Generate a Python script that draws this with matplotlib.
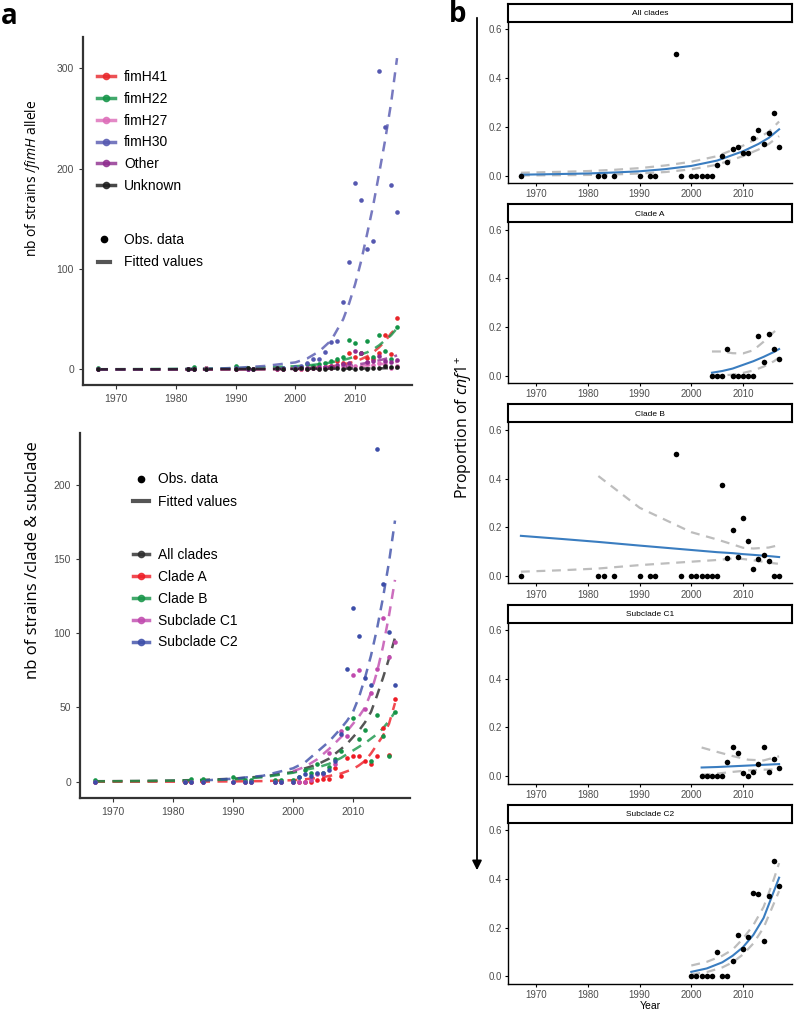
import matplotlib
matplotlib.use('Agg')
import matplotlib.pyplot as plt
from matplotlib.lines import Line2D
from matplotlib.patches import FancyArrowPatch
import numpy as np

plt.rcParams['font.family'] = ['Liberation Sans', 'DejaVu Sans']
plt.rcParams['mathtext.fontset'] = 'custom'
plt.rcParams['mathtext.rm'] = 'Open Sans'
plt.rcParams['mathtext.it'] = 'Open Sans:italic'

nan = np.nan

# ---------------- data: panel a (top) ----------------
years = [1967, 1982, 1983, 1985, 1990, 1992, 1993, 1997, 1998,
         2000, 2001, 2002, 2003, 2004, 2005, 2006, 2007, 2008,
         2009, 2010, 2011, 2012, 2013, 2014, 2015, 2016, 2017]

fim_names = ['fimH41', 'fimH22', 'fimH27', 'fimH30', 'Other', 'Unknown']
fim_colors = ['#E8262A', '#139447', '#DD6CB8', '#5558B0', '#8E2C8E', '#1A1A1A']

fimH41 = [0, 0, 0, 1, 0, 0, 0, 0, 0, 0, 0, 0, 1, 1, 2, 3, 8, 6, 16, 12, 16, 11, 10, 16, 34, 15, 51]
fimH22 = [1, 0, 2, 1, 3, 1, 0, 1, 1, 1, 2, 5, 3, 5, 6, 8, 10, 12, 29, 26, 16, 28, 12, 34, 18, 10, 42]
fimH27 = [0, 0, 0, 1, 0, 0, 0, 1, 0, 0, 0, 0, 1, 0, 2, 1, 2, 3, 4, 3, 2, 5, 4, 6, 4, 1, 3]
fimH30 = [0, 0, 0, 0, 1, 0, 0, 1, 1, 2, 3, 6, 10, 10, 17, 27, 28, 67, 107, 186, 169, 120, 128, 297, 241, 184, 157]
other = [0, 0, 0, 0, 0, 0, 0, 0, 0, 0, 1, 1, 1, 2, 2, 3, 4, 5, 6, 18, 16, 7, 8, 13, 8, 7, 9]
unknown = [0, 0, 0, 0, 0, 1, 0, 1, 0, 0, 1, 0, 1, 0, 0, 1, 1, 0, 1, 0, 1, 0, 1, 1, 3, 2, 2]

fit_years = [1967, 1975, 1980, 1985, 1990, 1995, 2000, 2002, 2004, 2006,
             2008, 2009, 2010, 2011, 2012, 2013, 2014, 2015, 2016, 2017]
fit_fimH41 = [0, 0, 0, 0, 0.1, 0.3, 0.8, 1.3, 2, 3, 5, 6.3, 8, 10.3, 13, 17, 22, 28, 36, 42]
fit_fimH22 = [0.2, 0.4, 0.6, 0.9, 1.3, 2, 3.2, 4, 5.2, 7, 9.5, 11, 13, 15, 17, 20, 24, 29, 34, 41]
fit_fimH27 = [0, 0, 0, 0.1, 0.2, 0.3, 0.6, 0.8, 1.2, 1.6, 2.2, 2.6, 3, 3.5, 4, 4.5, 5, 5.8, 6.5, 7.5]
fit_fimH30 = [0, 0.1, 0.3, 0.6, 1.5, 3.5, 7, 11, 18, 29, 50, 66, 85, 108, 135, 163, 195, 228, 265, 310]
fit_other = [0, 0, 0, 0, 0.1, 0.3, 0.7, 1, 1.5, 2.2, 3.2, 3.8, 4.5, 5.5, 6.5, 7.7, 9, 10.5, 12, 14]
fit_unknown = [0.1, 0.1, 0.15, 0.2, 0.3, 0.4, 0.5, 0.55, 0.65, 0.7, 0.8, 0.85, 0.9, 0.95, 1.0, 1.05, 1.1, 1.15, 1.2, 1.3]

# ---------------- data: panel a (bottom) ----------------
clade_names = ['All clades', 'Clade A', 'Clade B', 'Subclade C1', 'Subclade C2']
clade_colors = ['#2B2B2B', '#EE1C25', '#159447', '#C04AAE', '#3C4DA8']

cladeA = [0, 0, 0, 0, 0, 0, 0, 0, 0, 0, 0, 0, 0, 1, 2, 2, 9, 4, 16, 17, 17, 14, 12, 17, 36, 18, 56]
cladeB = [1, 0, 2, 2, 3, 1, 1, 1, 1, 1, 3, 8, 6, 12, 6, 10, 15, 21, 36, 43, 29, 35, 14, 45, 31, 17, 47]
subC1 = [0, 0, 0, 0, 0, 0, 0, 0, 0, 0, 0, 0, 1, 5, 5, 19, 12, 34, 31, 72, 75, 49, 60, 76, 110, 84, 94]
subC2 = [0, 0, 0, 0, 0, 0, 0, 0, 0, 0, 3, 5, 4, 6, 6, 8, 14, 32, 76, 117, 98, 70, 65, 224, 133, 101, 65]

fit_all = [0.3, 0.5, 0.8, 1.2, 2, 3.5, 6.5, 9, 11.5, 15.5, 22, 25.5, 30, 34.5, 40, 47, 58, 70, 83, 97]
fit_A = [0, 0, 0, 0.05, 0.2, 0.4, 1, 1.6, 2.5, 3.8, 5.5, 7, 8.5, 11, 14, 19, 25, 31, 39, 53]
fit_B = [0.2, 0.4, 0.6, 0.9, 1.5, 3, 6, 8, 9.5, 12, 16, 18.5, 21, 23.5, 26, 29, 32, 36, 41, 47]
fit_C1 = [nan, nan, nan, nan, nan, nan, 7, 10, 15, 22, 30, 34, 39, 44, 50, 60, 74, 91, 112, 136]
fit_C2 = [nan, nan, nan, 0.8, 2, 4, 9, 13, 20, 27, 36, 41, 47, 57, 70, 85, 103, 124, 148, 176]

# ---------------- data: panel b ----------------
prop_all = [0, 0, 0, 0, 0, 0, 0, 0.5, 0, 0, 0, 0, 0, 0, 0.044, 0.082, 0.055, 0.108,
            0.119, 0.095, 0.091, 0.156, 0.187, 0.128, 0.176, 0.258, 0.119]
grid_all = [1967, 1975, 1980, 1985, 1990, 1995, 2000, 2005, 2010, 2013, 2015, 2017]
pfit_all = [0.004, 0.007, 0.009, 0.013, 0.018, 0.027, 0.04, 0.062, 0.1, 0.13, 0.155, 0.19]
pup_all = [0.012, 0.016, 0.019, 0.024, 0.031, 0.042, 0.057, 0.08, 0.123, 0.155, 0.18, 0.222]
plo_all = [0.001, 0.002, 0.003, 0.005, 0.009, 0.015, 0.026, 0.045, 0.08, 0.107, 0.13, 0.162]

years_A = [2004, 2005, 2006, 2007, 2008, 2009, 2010, 2011, 2012, 2013, 2014, 2015, 2016, 2017]
prop_A = [0, 0, 0, 0.109, 0, 0, 0, 0, 0, 0.165, 0.057, 0.17, 0.109, 0.071]
grid_A = [2004, 2006, 2008, 2010, 2012, 2014, 2016, 2017]
pfit_A = [0.013, 0.02, 0.03, 0.045, 0.06, 0.078, 0.098, 0.11]
pup_A = [0.1, 0.1, 0.093, 0.092, 0.105, 0.14, 0.18, 0.197]
plo_A = [0.001, 0.002, 0.005, 0.012, 0.022, 0.038, 0.06, 0.075]

prop_B = [0, 0, 0, 0, 0, 0, 0, 0.5, 0, 0, 0, 0, 0, 0, 0, 0.375, 0.075, 0.188,
          0.08, 0.237, 0.142, 0.027, 0.07, 0.087, 0.063, 0, 0]
grid_B = [1967, 1975, 1982, 1990, 2000, 2005, 2008, 2010, 2012, 2015, 2017]
pfit_B = [0.165, 0.152, 0.14, 0.125, 0.107, 0.098, 0.094, 0.09, 0.087, 0.082, 0.078]
pup_B = [nan, nan, 0.41, 0.28, 0.18, 0.15, 0.13, 0.116, 0.113, 0.117, 0.127]
plo_B = [0.018, 0.024, 0.031, 0.045, 0.059, 0.066, 0.072, 0.07, 0.065, 0.055, 0.05]

years_C1 = [2002, 2003, 2004, 2005, 2006, 2007, 2008, 2009, 2010, 2011, 2012, 2013, 2014, 2015, 2016, 2017]
prop_C1 = [0, 0, 0, 0, 0, 0.059, 0.119, 0.097, 0.014, 0, 0.019, 0.052, 0.119, 0.019, 0.07, 0.033]
grid_C1 = [2002, 2005, 2008, 2011, 2014, 2017]
pfit_C1 = [0.036, 0.038, 0.041, 0.044, 0.047, 0.05]
pup_C1 = [0.118, 0.1, 0.083, 0.068, 0.065, 0.082]
plo_C1 = [0.006, 0.011, 0.018, 0.024, 0.027, 0.028]

years_C2 = [2000, 2001, 2002, 2003, 2004, 2005, 2006, 2007, 2008, 2009, 2010, 2011,
            2012, 2013, 2014, 2015, 2016, 2017]
prop_C2 = [0, 0, 0, 0, 0, 0.1, 0, 0, 0.062, 0.172, 0.111, 0.163, 0.342, 0.338, 0.144, 0.328, 0.475, 0.369]
grid_C2 = [2000, 2003, 2006, 2008, 2010, 2012, 2014, 2016, 2017]
pfit_C2 = [0.019, 0.033, 0.058, 0.085, 0.12, 0.17, 0.24, 0.35, 0.405]
pup_C2 = [0.045, 0.06, 0.085, 0.11, 0.155, 0.21, 0.285, 0.40, 0.465]
plo_C2 = [0.008, 0.018, 0.037, 0.058, 0.09, 0.135, 0.2, 0.30, 0.35]

x_ticks = [1970, 1980, 1990, 2000, 2010]

# ---------------- figure ----------------
W, H = 800, 1014
fig = plt.figure(figsize=(W / 100, H / 100), dpi=100)


def px_axes(l, t, r, b):
    return fig.add_axes([l / W, 1 - b / H, (r - l) / W, (b - t) / H])


DASH = (0, (4, 3))


def style_left(ax):
    for s in ['top', 'right']:
        ax.spines[s].set_visible(False)
    for s in ['left', 'bottom']:
        ax.spines[s].set_linewidth(1.6)
        ax.spines[s].set_color('#333333')
    ax.tick_params(labelsize=7.5, labelcolor='#4D4D4D', color='#333333', length=3, width=0.8)
    ax.set_xlim(1964.5, 2019.5)
    ax.set_xticks(x_ticks)


# top-left
ax1 = px_axes(83, 37, 412, 385)
style_left(ax1)
fim_obs = [fimH41, fimH22, fimH27, fimH30, other, unknown]
fim_fit = [fit_fimH41, fit_fimH22, fit_fimH27, fit_fimH30, fit_other, fit_unknown]
for obs, fit, c in zip(fim_obs, fim_fit, fim_colors):
    ax1.plot(fit_years, fit, ls=DASH, lw=1.8, color=c, alpha=0.8, zorder=2)
    ax1.scatter(years, obs, s=11, color=c, lw=0, zorder=3)
ax1.set_ylim(-15.5, 331)
ax1.set_yticks([0, 100, 200, 300])

LS = 0.56
h1 = [Line2D([0], [0], color=c, lw=2.5, alpha=0.8, marker='o', ms=4.5, mfc=c, mec=c) for c in fim_colors]
leg1 = ax1.legend(h1, fim_names, loc='upper left', bbox_to_anchor=(0.0425, 0.905), frameon=False,
                  fontsize=10, handlelength=1.3, handletextpad=0.65, labelspacing=LS,
                  borderpad=0, borderaxespad=0)
ax1.add_artist(leg1)
h_type = [Line2D([0], [0], ls='none', marker='o', color='black', ms=4.5),
          Line2D([0], [0], color='#555555', lw=3)]
ax1.legend(h_type, ['Obs. data', 'Fitted values'], loc='upper left', bbox_to_anchor=(0.045, 0.437),
           frameon=False, fontsize=10, handlelength=0.9, handletextpad=1.0, labelspacing=LS + 0.05,
           borderpad=0, borderaxespad=0)

# bottom-left
ax2 = px_axes(80, 433, 410, 798)
style_left(ax2)
clade_obs = [None, cladeA, cladeB, subC1, subC2]
clade_fit = [fit_all, fit_A, fit_B, fit_C1, fit_C2]
for obs, fit, c in zip(clade_obs, clade_fit, clade_colors):
    ax2.plot(fit_years, fit, ls=DASH, lw=1.8, color=c, alpha=0.8, zorder=2)
    if obs is not None:
        ax2.scatter(years, obs, s=11, color=c, lw=0, zorder=3)
ax2.set_ylim(-11, 235)
ax2.set_yticks([0, 50, 100, 150, 200])

leg3 = ax2.legend(h_type, ['Obs. data', 'Fitted values'], loc='upper left', bbox_to_anchor=(0.16, 0.892),
                  frameon=False, fontsize=10, handlelength=1.2, handletextpad=0.65, labelspacing=LS + 0.05,
                  borderpad=0, borderaxespad=0)
ax2.add_artist(leg3)
h2 = [Line2D([0], [0], color=c, lw=2.5, alpha=0.8, marker='o', ms=4.5, mfc=c, mec=c) for c in clade_colors]
ax2.legend(h2, clade_names, loc='upper left', bbox_to_anchor=(0.16, 0.684), frameon=False,
           fontsize=10, handlelength=1.2, handletextpad=0.65, labelspacing=LS,
           borderpad=0, borderaxespad=0)

# labels panel a
fig.text(33 / W, 1 - 178 / H, 'nb of strains /$\\mathit{fimH}$ allele', rotation=90,
         ha='center', va='center', fontsize=10, family='Open Sans')
fig.text(33 / W, 1 - 560 / H, 'nb of strains /clade & subclade', rotation=90,
         ha='center', va='center', fontsize=12, family='Open Sans')
fig.text(1 / W, 1 - 17 / H, 'a', fontsize=20, fontweight='bold', ha='left', va='center', family='Open Sans')
fig.text(449 / W, 1 - 15 / H, 'b', fontsize=20, fontweight='bold', ha='left', va='center', family='Open Sans')

# panel b
panels = [
    ('All clades', years, prop_all, grid_all, pfit_all, pup_all, plo_all),
    ('Clade A', years_A, prop_A, grid_A, pfit_A, pup_A, plo_A),
    ('Clade B', years, prop_B, grid_B, pfit_B, pup_B, plo_B),
    ('Subclade C1', years_C1, prop_C1, grid_C1, pfit_C1, pup_C1, plo_C1),
    ('Subclade C2', years_C2, prop_C2, grid_C2, pfit_C2, pup_C2, plo_C2),
]
for i, (name, yrs, props, gy, pf, pu, pl) in enumerate(panels):
    top = 4 + 200.2 * i
    sbot = top + 18
    bot = top + 179
    ax = px_axes(508, sbot, 792, bot)
    sax = px_axes(508, top, 792, sbot)
    sax.set_xticks([])
    sax.set_yticks([])
    for s in sax.spines.values():
        s.set_linewidth(1.5)
    sax.text(0.5, 0.45, name, fontsize=6, ha='center', va='center', transform=sax.transAxes)
    for s in ['top', 'right']:
        ax.spines[s].set_visible(False)
    for s in ['left', 'bottom']:
        ax.spines[s].set_linewidth(1.0)
    ax.plot(gy, pu, color='#BDBDBD', ls=DASH, lw=1.6, zorder=2)
    ax.plot(gy, pl, color='#BDBDBD', ls=DASH, lw=1.6, zorder=2)
    ax.plot(gy, pf, color='#3A7DC0', lw=1.5, zorder=3)
    ax.scatter(yrs, props, s=16, color='black', lw=0, zorder=4)
    ax.set_xlim(1964.5, 2019.5)
    ax.set_ylim(-0.03, 0.63)
    ax.set_xticks(x_ticks)
    ax.set_yticks([0, 0.2, 0.4, 0.6])
    ax.set_yticklabels(['0.0', '0.2', '0.4', '0.6'])
    ax.tick_params(labelsize=7, labelcolor='#4D4D4D', length=2.5, width=0.8, pad=2)
    if i == len(panels) - 1:
        ax.set_xlabel('Year', fontsize=7.5, labelpad=1)

fig.text(463 / W, 1 - 428 / H, 'Proportion of $\\mathit{cnf1}^{+}$', rotation=90,
         ha='center', va='center', fontsize=11.5, family='Open Sans')
arrow = FancyArrowPatch((477 / W, 1 - 15 / H), (477 / W, 1 - 873 / H), transform=fig.transFigure,
                        arrowstyle='-|>', mutation_scale=14, lw=1.3, color='black')
fig.add_artist(arrow)

fig.savefig('out.png', dpi=100)
